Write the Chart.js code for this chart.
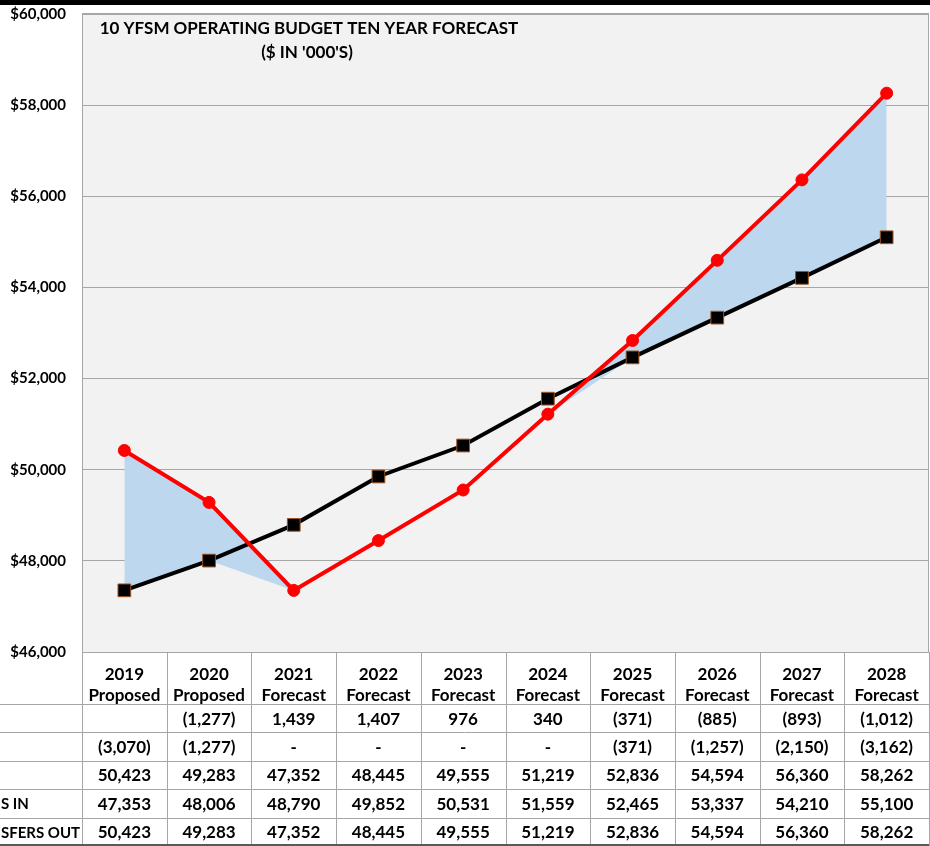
<!DOCTYPE html>
<html>
<head>
<meta charset="utf-8">
<title>10 YFSM Operating Budget Ten Year Forecast</title>
<script src="https://cdn.jsdelivr.net/npm/chart.js@4.4.1/dist/chart.umd.min.js"></script>
<style>
    html, body { margin: 0; padding: 0; background: #fff; }
    #wrap { position: relative; width: 930px; height: 846px; overflow: hidden; }
    #top-band { position: absolute; left: 0; top: 0; width: 930px; height: 5px; background: #000; }
</style>
</head>
<body>
<div id="wrap">
    <canvas id="forecast-chart" width="930" height="846"></canvas>
    <div id="top-band"></div>
</div>
<script>
// Budget years and their stage
const years = ['2019', '2020', '2021', '2022', '2023', '2024', '2025', '2026', '2027', '2028'];
const stages = ['Proposed', 'Proposed', 'Forecast', 'Forecast', 'Forecast', 'Forecast', 'Forecast', 'Forecast', 'Forecast', 'Forecast'];

// Series ($ in '000s)
const transfersIn = [47353, 48006, 48790, 49852, 50531, 51559, 52465, 53337, 54210, 55100];
const transfersOut = [50423, 49283, 47352, 48445, 49555, 51219, 52836, 54594, 56360, 58262];

// Lower edge of the shaded gap (lower of the two series at each year)
const gapFloor = [47353, 48006, 47352, 48445, 49555, 51219, 52465, 53337, 54210, 55100];

// Table rows under the chart
const annualChange = [null, -1277, 1439, 1407, 976, 340, -371, -885, -893, -1012];
const cumulativeChange = [-3070, -1277, 0, 0, 0, 0, -371, -1257, -2150, -3162];
const rowLabels = ['', '', '', 'S IN', 'SFERS OUT'];

// Y axis range
const yMin = 46000;
const yMax = 60000;
const yStep = 2000;

const FONT = 'Lato, "Open Sans", sans-serif';
const GRID = '#a6a6a6';

function fmt(v) {
    if (v === null) return '';
    if (v === 0) return '-';
    const s = Math.abs(v).toLocaleString('en-US');
    return v < 0 ? '(' + s + ')' : s;
}

// Grey plot background with a thin frame
const plotBackground = {
    id: 'plotBackground',
    beforeDraw(chart) {
        const { ctx, chartArea: a } = chart;
        ctx.save();
        ctx.fillStyle = '#f2f2f2';
        ctx.fillRect(a.left, a.top, a.right - a.left, a.bottom - a.top);
        ctx.strokeStyle = GRID;
        ctx.lineWidth = 1;
        ctx.strokeRect(a.left + 0.5, a.top - 0.5, a.right - a.left - 1, a.bottom - a.top + 1);
        ctx.restore();
    }
};

// Two-line heading inside the plot
const heading = {
    id: 'heading',
    afterDatasetsDraw(chart) {
        const { ctx } = chart;
        ctx.save();
        ctx.fillStyle = '#000';
        ctx.font = 'bold 17px ' + FONT;
        ctx.textAlign = 'center';
        ctx.textBaseline = 'middle';
        ctx.fillText('10 YFSM OPERATING BUDGET TEN YEAR FORECAST', 309, 29);
        ctx.fillText("($ IN '000'S)", 307, 53);
        ctx.restore();
    }
};

// Data table drawn under the x axis, one column per category
const dataTable = {
    id: 'dataTable',
    afterDraw(chart) {
        const { ctx, chartArea: a } = chart;
        const x = chart.scales.x;
        const colW = x.getPixelForValue(1) - x.getPixelForValue(0);
        const headerBottom = a.bottom + 52;
        const bottom = chart.height;
        const rowH = (bottom - headerBottom) / 5;
        const rows = [
            annualChange.map(fmt),
            cumulativeChange.map(fmt),
            transfersOut.map(fmt),
            transfersIn.map(fmt),
            transfersOut.map(fmt)
        ];

        ctx.save();
        ctx.strokeStyle = GRID;
        ctx.lineWidth = 1;

        // column separators
        for (let i = 0; i <= years.length; i++) {
            const px = Math.round(x.getPixelForValue(i) - colW / 2) + 0.5;
            ctx.beginPath();
            ctx.moveTo(px, a.bottom);
            ctx.lineTo(px, bottom);
            ctx.stroke();
        }

        // row separators
        for (let r = 0; r < 5; r++) {
            const py = Math.round(headerBottom + r * rowH) + 0.5;
            ctx.beginPath();
            ctx.moveTo(0, py);
            ctx.lineTo(a.right, py);
            ctx.stroke();
        }
        ctx.strokeStyle = '#595959';
        ctx.lineWidth = 2;
        ctx.beginPath();
        ctx.moveTo(0, bottom - 1);
        ctx.lineTo(a.right, bottom - 1);
        ctx.stroke();

        ctx.fillStyle = '#000';
        ctx.textBaseline = 'middle';
        rows.forEach((row, r) => {
            const cy = headerBottom + (r + 0.5) * rowH + 1;
            ctx.font = 'bold 15px ' + FONT;
            ctx.textAlign = 'left';
            ctx.fillText(rowLabels[r], 1, cy);
            ctx.font = 'bold 17px ' + FONT;
            ctx.textAlign = 'center';
            row.forEach((txt, i) => ctx.fillText(txt, x.getPixelForValue(i), cy));
        });
        ctx.restore();
    }
};

const ctx = document.getElementById('forecast-chart').getContext('2d');
new Chart(ctx, {
    type: 'line',
    data: {
        labels: years.map((y, i) => [y, stages[i]]),
        datasets: [
            {
                label: 'Transfers Out',
                data: transfersOut,
                borderColor: '#ff0000',
                borderWidth: 4,
                backgroundColor: '#bdd7ee',
                fill: { target: 2 },
                pointStyle: 'circle',
                pointRadius: 6,
                pointBackgroundColor: '#ff0000',
                pointBorderColor: '#ff0000',
                pointBorderWidth: 1,
                tension: 0,
                order: 0
            },
            {
                label: 'Transfers In',
                data: transfersIn,
                borderColor: '#000000',
                borderWidth: 4,
                fill: false,
                pointStyle: 'rect',
                pointRadius: 9,
                pointBackgroundColor: '#000000',
                pointBorderColor: '#a0521d',
                pointBorderWidth: 1,
                tension: 0,
                order: 1
            },
            {
                label: 'floor',
                data: gapFloor,
                borderColor: 'rgba(0,0,0,0)',
                borderWidth: 0,
                pointRadius: 0,
                pointHoverRadius: 0,
                fill: false,
                tension: 0,
                order: 2
            }
        ]
    },
    options: {
        responsive: false,
        animation: false,
        layout: { autoPadding: false, padding: { top: 14, right: 1, bottom: 142, left: 0 } },
        plugins: {
            legend: { display: false },
            tooltip: { enabled: false },
            filler: { drawTime: 'beforeDatasetsDraw' }
        },
        scales: {
            x: {
                offset: true,
                grid: { display: false },
                border: { display: false },
                ticks: {
                    color: '#000',
                    padding: 4,
                    maxRotation: 0,
                    autoSkip: false,
                    font: { family: FONT, size: 17, weight: 'bold', lineHeight: 1.25 }
                },
                afterFit(scale) {
                    scale.height = 52;
                    scale.paddingLeft = 0;
                    scale.paddingRight = 0;
                }
            },
            y: {
                min: yMin,
                max: yMax,
                grid: { color: GRID, lineWidth: 1, drawTicks: false },
                border: { color: GRID },
                ticks: {
                    stepSize: yStep,
                    padding: 16,
                    color: '#000',
                    font: { family: FONT, size: 15, weight: 'bold' },
                    callback: (v) => '$' + v.toLocaleString('en-US')
                },
                afterFit(scale) {
                    scale.width = 82;
                    scale.paddingTop = 0;
                    scale.paddingBottom = 0;
                }
            }
        }
    },
    plugins: [plotBackground, heading, dataTable]
});
</script>
</body>
</html>
